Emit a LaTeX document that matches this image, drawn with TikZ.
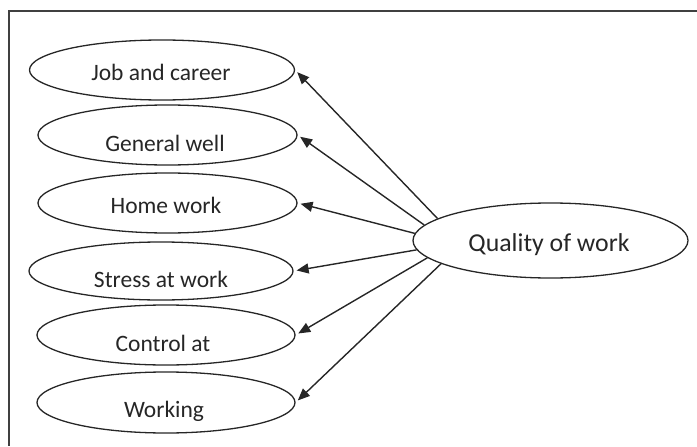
\documentclass[tikz,border=0pt]{standalone}
\usepackage{fontspec}
\setmainfont{Carlito}
\usetikzlibrary{shapes.geometric,arrows.meta}
\tikzset{
  oval/.style={draw=black!85, line width=1.3pt, ellipse, inner sep=0pt},
  lbl/.style={inner sep=0pt, text=black!85, font=\fontsize{23.5}{27}\selectfont},
  arr/.style={line width=1.4pt, draw=black!85, -{Triangle[length=12pt,width=10pt]}, shorten >=3pt},
  frame/.style={line width=1.8pt, draw=black!75}
}
\begin{document}
\begin{tikzpicture}[x=1pt,y=-1pt]
\useasboundingbox (0,0) rectangle (697,447);
% frame
\coordinate (fr1) at (697,11);
\coordinate (fr2) at (9,11);
\coordinate (fr3) at (9,446);
\draw[frame] (fr1) -- (fr2) -- (fr3);
% left ellipses
\node[oval, minimum width=265pt, minimum height=60pt] (job) at (162,70) {};
\node[oval, minimum width=259pt, minimum height=60pt] (gen) at (167.5,135) {};
\node[oval, minimum width=259pt, minimum height=60pt] (home) at (167.5,203) {};
\node[oval, minimum width=264pt, minimum height=58pt] (stress) at (161,271) {};
\node[oval, minimum width=258pt, minimum height=60pt] (ctl) at (166,335) {};
\node[oval, minimum width=258pt, minimum height=61pt] (wrk) at (166,402.5) {};
% right ellipse
\node[oval, minimum width=275pt, minimum height=75pt] (q) at (550.5,240.5) {};
% texts
\node[lbl] (jobt) at (161,72) {Job and career};
\node[lbl] (gent) at (165,143) {General well};
\node[lbl] (homet) at (166,205) {Home work};
\node[lbl] (stresst) at (161,279) {Stress at work};
\node[lbl] (ctlt) at (163,343) {Control at};
\node[lbl] (wrkt) at (164,411) {Working};
\node[lbl, font=\fontsize{25.8}{30}\selectfont] (qt) at (549,245) {Quality of work};
% arrows
\draw[arr] (q.169) -- (job.east);
\draw[arr] (q.173) -- (gen.east);
\draw[arr] (q.177.5) -- (home.east);
\draw[arr] (q.184) -- (stress.east);
\draw[arr] (q.188.5) -- (ctl.east);
\draw[arr] (q.192) -- (wrk.east);
\end{tikzpicture}
\end{document}
